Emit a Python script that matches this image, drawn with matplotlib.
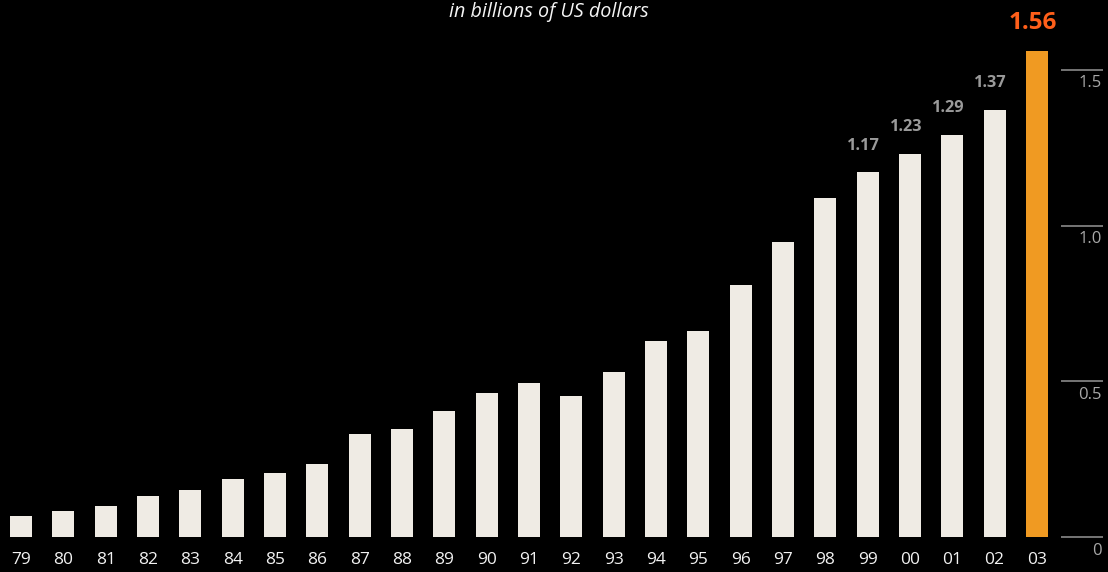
import matplotlib
matplotlib.use("Agg")
import matplotlib.pyplot as plt
import matplotlib.transforms as mtransforms

years = ["79", "80", "81", "82", "83", "84", "85", "86", "87", "88", "89", "90",
         "91", "92", "93", "94", "95", "96", "97", "98", "99", "00", "01", "02", "03"]
values = [0.069, 0.085, 0.101, 0.133, 0.152, 0.188, 0.207, 0.236, 0.332, 0.348,
          0.405, 0.463, 0.495, 0.454, 0.530, 0.630, 0.662, 0.810, 0.947, 1.088,
          1.17, 1.23, 1.29, 1.37, 1.56]
labelled = {"99": "1.17", "00": "1.23", "01": "1.29", "02": "1.37", "03": "1.56"}
yticks = [0, 0.5, 1.0, 1.5]
ytick_labels = ["0", "0.5", "1.0", "1.5"]
title = "in billions of US dollars"

BG = "#000000"
CREAM = "#efebe4"
ORANGE = "#f09a22"
HILITE = "#ff5f1a"
GRAY = "#9a9a9a"

plt.rcParams['font.family'] = ['Open Sans', 'DejaVu Sans']

fig = plt.figure(figsize=(11.08, 5.72), dpi=100, facecolor=BG)
ax = fig.add_axes([0, 0, 1, 1], facecolor=BG)

n = len(years)
xs = list(range(n))
colors = [CREAM] * (n - 1) + [ORANGE]
ax.bar(xs, values, width=0.52, color=colors, zorder=2)

ax.set_xlim(-0.496, 25.68)
ax.set_ylim(-0.1106, 1.7228)
ax.axis("off")

# year labels
tb = mtransforms.blended_transform_factory(ax.transData, fig.transFigure)
for x, y in zip(xs, years):
    ax.text(x, (572 - 560.5) / 572, y, transform=tb, ha="center", va="center",
            color="#f2f2f2", fontsize=12.5)

# right-side grid marks and labels
ty = ax.get_yaxis_transform()
for v, lab in zip(yticks, ytick_labels):
    ax.plot([1061 / 1108, 1103 / 1108], [v, v], transform=ty, color="#8a8a8a",
            lw=1.2, solid_capstyle="butt", zorder=1)
    off = mtransforms.offset_copy(ty, fig=fig, x=0, y=-4, units="points")
    ax.text(1102 / 1108, v, lab, transform=off, ha="right", va="top",
            color="#a8a8a8", fontsize=12)

# value labels
for x, y, v in zip(xs, years, values):
    if y in labelled:
        last = (y == years[-1])
        off = mtransforms.offset_copy(ax.transData, fig=fig, x=-2.8,
                                      y=16 if last else 16.5, units="points")
        ax.text(x, v, labelled[y], transform=off, ha="center", va="baseline",
                color=HILITE if last else GRAY, fontweight="bold",
                fontsize=17.5 if last else 11.8)

fig.text(549 / 1108, 1 - 12 / 572, title, ha="center", va="center",
         color="#f4f4f4", fontsize=14.2, style="italic")

fig.savefig("out.png", dpi=100, facecolor=BG)
